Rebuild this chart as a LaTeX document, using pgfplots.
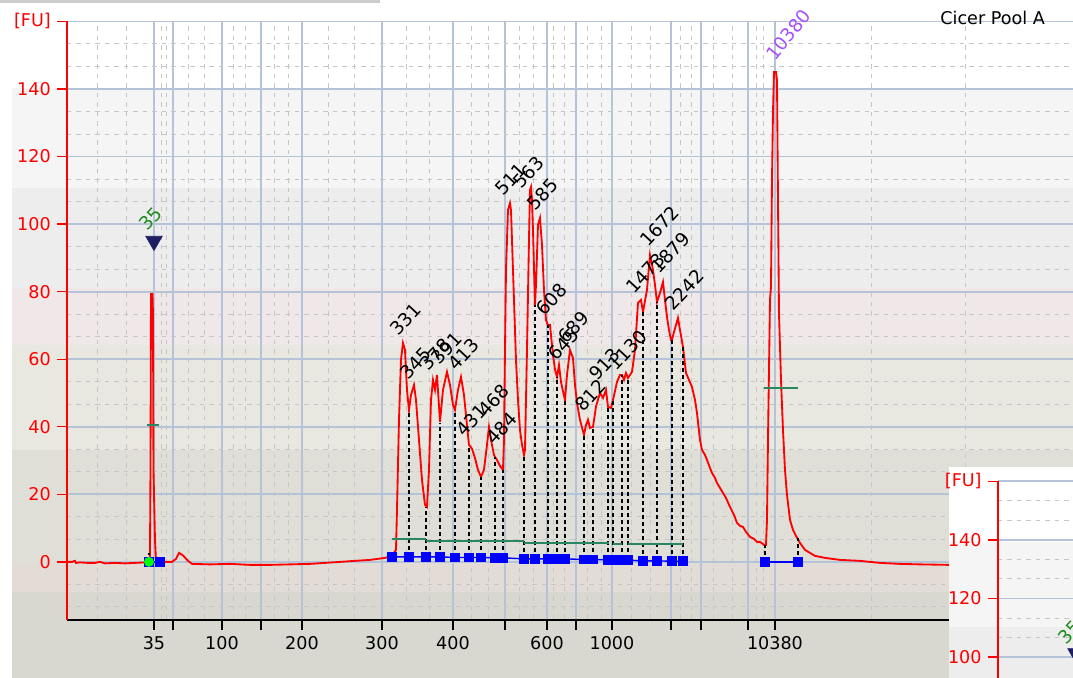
\documentclass[border=0pt]{standalone}
\usepackage{fontspec}
\setmainfont{DejaVu Sans}
\usepackage{pgfplots}
\pgfplotsset{compat=1.18}
\definecolor{trace}{RGB}{255,0,0}
\definecolor{gridmaj}{RGB}{180,195,215}
\definecolor{gridmin}{RGB}{198,198,198}
\definecolor{peakgreen}{RGB}{40,135,95}
\definecolor{navy}{RGB}{30,30,100}
\definecolor{lilac}{RGB}{165,80,255}
\definecolor{lbl35}{RGB}{30,140,30}
\definecolor{bandA}{RGB}{245,245,245}
\definecolor{bandB}{RGB}{237,237,237}
\definecolor{bandC}{RGB}{240,232,232}
\definecolor{bandD}{RGB}{232,232,225}
\definecolor{bandE}{RGB}{223,222,215}
\definecolor{bandF}{RGB}{227,219,214}
\definecolor{bandG}{RGB}{216,216,209}

\pgfplotsset{
  bio grid/.style={
    grid=both,
    major grid style={gridmaj, line width=1pt},
    minor grid style={gridmin, line width=0.55pt, dash pattern=on 0.09cm off 0.1cm},
  },
}
\tikzset{
  peak/.style={rotate=47, anchor=base west, inner sep=0pt, font=\fontsize{10.5}{12}\selectfont},
}

\begin{document}
\begin{tikzpicture}
% background bands, drawn in image pixels
\begin{scope}[x=0.02cm,y=-0.02cm,shift={(-1.34cm,12.4cm)}]
  \fill[white] (0,0) rectangle (1073,678);
  \fill[bandA] (12,88) rectangle (1073,188);
  \fill[bandB] (12,188) rectangle (1073,288);
  \fill[bandC] (12,288) rectangle (1073,345);
  \fill[bandD] (12,345) rectangle (1073,450);
  \fill[bandE] (12,450) rectangle (1073,564);
  \fill[bandF] (12,564) rectangle (1073,592);
  \fill[bandG] (12,592) rectangle (1073,678);
  \fill[black!20] (0,0) rectangle (380,3);
\end{scope}

\begin{axis}[
  x=0.02cm, y=0.067572cm,
  xmin=67, xmax=1073, ymin=-17.167, ymax=160,
  enlargelimits=false,
  axis lines=left,
  x axis line style={black, line width=0.8pt, -},
  y axis line style={red, line width=1.1pt, -},
  tick align=outside,
  major tick length=0.2cm,
  minor tick length=0pt,
  xtick={154,173,222,261,302,382,453,505,547,576,612,671,701,748,775},
  xticklabels={35,,100,,200,300,400,,600,,1000,,,,10380},
  minor xtick={97,126,161,166,188,204,233,245,274,288,328,354,406,429,471,488,519,533,553,564,587,601,631,650,680,691,713,732,756,763,871,965},
  ytick={0,20,40,60,80,100,120,140,160},
  yticklabels={0,20,40,60,80,100,120,140,{[FU]}},
  minor ytick={-13.333,-6.667,6.667,13.333,26.667,33.333,46.667,53.333,66.667,73.333,86.667,93.333,106.667,113.333,126.667,133.333,146.667,153.333},
  bio grid,
  x tick style={black, line width=0.8pt},
  y tick style={red, line width=0.8pt},
  tick label style={font=\fontsize{10}{12}\selectfont},
  yticklabel style={text=red},
  clip=false,
]

% electropherogram trace
\addplot[trace, line width=1.05pt] coordinates {
(67,0) (72,0) (75,0.3) (76,-0.3) (80,-0.15) (88,-0.3) (95,-0.3) (100,0)
(105,-0.44) (115,-0.3) (125,-0.44) (135,-0.3) (145,-0.15) (149,0)
(150,2.07) (150.5,27.2) (151,79.3) (152.5,79.3) (153,73.4) (153.5,27.2)
(155,6.5) (156,0.6) (158,0) (165,0) (172,0) (176,0.89) (179,2.66) (183,1.92)
(188,0.3) (192,-0.59) (210,-0.74) (230,-0.59) (250,-0.89) (270,-0.89)
(290,-0.74) (310,-0.59) (325,-0.3) (340,0) (355,0.3) (370,0.59) (385,1.18)
(392,1.78) (396,3.55) (397,15.39) (399,42.03) (401,59.79) (403,64.82)
(405,62.75) (407,50.91) (409,44.99) (411,49.43) (414,52.39) (416,47.95)
(419,36.11) (422,24.27) (425,16.87) (427,16.28) (429,27.23) (431,47.95)
(433,53.87) (435,50.91) (437,55.35) (440,41.44) (443,50.91) (447,56.24)
(450,52.39) (453,46.47) (455,44.99) (458,50.91) (461,54.76) (464,49.43)
(467,40.5) (469,34.63) (472,33.5) (475,30.78) (478,27.23) (481,25.16)
(484,27.23) (487,34.63) (489,39.96) (491,36.11) (494,31.67) (495,31.08)
(497,30.19) (500,28.4) (503,27.23) (504,36.11) (505,62.75) (506,86.43)
(508,104.19) (510,106.26) (511,104.19) (512,95.31) (514,77.55) (516,59.79)
(518,47.95) (520,39.07) (522,34.63) (524,31.67) (525,33.15) (527,62.75)
(529,95.31) (530,110.1) (531,111.0) (532,107.1) (533,98.3) (535,76.07)
(536,82) (538,99.75) (540,101.8) (542,93.83) (544,80.51) (546,71.63)
(548,70) (550,70.15) (553,61.27) (555,57) (557,54.76) (559,58.31)
(561,53.3) (563,50.5) (565,47.95) (567,55.35) (570,62.75) (573,60.38)
(575,52.39) (577,47.06) (580,42.03) (584,37.59) (586,40.55) (588,42.03)
(590,39.66) (593,39.96) (596,46) (600,50.02) (603,48.54) (606,50.91)
(608,45.88) (611,45.58) (613,47.95) (617,53.28) (620,55.35) (622,55.35)
(624,53.87) (626,55.9) (628,54.46) (632,56.24) (635,62.75) (638,76.66)
(641,77.55) (643,74.0) (647,80.51) (650,90.87) (653,86.43) (655,81.99)
(657,76.95) (660,79.62) (663,82.87) (665,77.55) (667,72.52) (669,68.67)
(671,65.71) (672,65.71) (674,68.08) (678,72.22) (680,68.67) (683,63.64)
(686,55.94) (689,53.87) (692,51.8) (695,47.95) (697,44.1) (700,36.11)
(702,33.15) (705,31.67) (707,30.19) (710,27.82) (712,26.34) (715,24.86)
(717,23.38) (720,21.9) (723,20.42) (726,18.94) (730,16.28) (734,13.91)
(737,11.54) (740,10.66) (743,10.36) (746,8.88) (750,7.4) (754,6.81)
(757,5.92) (760,5.92) (764,5.03) (766,5.03) (767,12.43) (768,36.11)
(770,77.55) (771,81.39) (772,113.06) (773,132.9) (774,145.0) (776,145.0)
(777,142.66) (778,107.15) (779,73.7) (781,53.87) (783,39.07) (785,27.23)
(787,19.83) (790,12.43) (793,9.47) (796,7.7) (800,5.62) (805,3.55)
(810,2.66) (815,1.78) (825,1.18) (840,0.59) (860,0.3) (880,-0.3)
(900,-0.59) (920,-0.74) (950,-0.89) (1000,-0.89) (1073,-0.89)
};

% peak boundary drop lines
\addplot[black, line width=0.8pt, dash pattern=on 0.08cm off 0.06cm, unbounded coords=jump] coordinates {
(409,1.5) (409,45.0) (409,nan)
(426,1.5) (426,16.3) (426,nan)
(440,1.5) (440,41.1) (440,nan)
(455,1.5) (455,45.0) (455,nan)
(469,1.5) (469,34.6) (469,nan)
(481,1.5) (481,25.2) (481,nan)
(495,1.5) (495,31.1) (495,nan)
(503,1.5) (503,27.2) (503,nan)
(524,0.9) (524,31.7) (524,nan)
(535,0.9) (535,76.1) (535,nan)
(548,0.9) (548,70.0) (548,nan)
(557,0.9) (557,54.8) (557,nan)
(565,0.9) (565,48.0) (565,nan)
(584,0.9) (584,37.6) (584,nan)
(593,0.9) (593,40.0) (593,nan)
(608,0.9) (608,45.9) (608,nan)
(613,0.9) (613,48.0) (613,nan)
(622,0.9) (622,55.4) (622,nan)
(628,0.9) (628,54.5) (628,nan)
(643,0.3) (643,74.0) (643,nan)
(657,0.3) (657,77.0) (657,nan)
(672,0.3) (672,65.7) (672,nan)
(683,0.3) (683,63.6) (683,nan)
(765,0) (765,5.0) (765,nan)
(798,0) (798,7.0) (798,nan)
(149,0) (149,2.6)
};

% peak baselines
\addplot[peakgreen, line width=0.8pt, unbounded coords=jump] coordinates {
(392,6.81) (426,6.81) (426,nan)
(426,6.22) (524,6.22) (524,nan)
(524,5.62) (609,5.62) (609,nan)
(613,5.33) (622,5.33) (622,nan)
(628,5.33) (683,5.33) (683,nan)
(147,40.55) (159,40.55) (159,nan)
(764,51.5) (798,51.5)
};

% peak boundary markers
\addplot[blue, line width=0.8pt, mark=square*, mark size=2.4pt, mark options={fill=blue, rounded corners=0.6pt}] coordinates {
(392,1.5) (409,1.5) (426,1.5) (440,1.5) (455,1.3) (469,1.3) (481,1.3) (495,1.2) (503,1.2)
(524,0.9) (535,0.9) (548,0.9) (557,0.9) (565,0.9) (584,0.7) (593,0.7) (608,0.6)
(613,0.6) (622,0.5) (628,0.5) (643,0.3) (657,0.3) (672,0.2) (683,0.2)
};
\addplot[blue, line width=0.8pt, mark=square*, mark size=2.4pt, mark options={fill=blue, rounded corners=0.6pt}] coordinates {(765,0) (798,0)};
\addplot[blue, line width=0.8pt, mark=square*, mark size=2.4pt, mark options={fill=blue, rounded corners=0.6pt}] coordinates {(149,0) (160,0)};
\addplot[only marks, mark=*, mark size=2.6pt, green, mark options={fill=green}] coordinates {(149,0)};
\addplot[only marks, mark=triangle*, mark size=5.4pt, navy, mark options={rotate=180, fill=navy}] coordinates {(154,95.0)};

% peak labels
\node[peak, text=lbl35] at (axis cs:147,97.7) {35};
\node[peak] at (axis cs:398,66.6) {331};
\node[peak] at (axis cs:408,53.6) {345};
\node[peak] at (axis cs:428,56.2) {378};
\node[peak] at (axis cs:439,58.0) {391};
\node[peak] at (axis cs:456,56.2) {413};
\node[peak] at (axis cs:464,36.7) {431};
\node[peak] at (axis cs:486,42.6) {468};
\node[peak] at (axis cs:494,34.3) {484};
\node[peak] at (axis cs:503,108.0) {511};
\node[peak] at (axis cs:521,110.1) {563};
\node[peak] at (axis cs:535,103.6) {585};
\node[peak] at (axis cs:544,72.5) {608};
\node[peak] at (axis cs:556,59.2) {645};
\node[peak] at (axis cs:566,64.2) {689};
\node[peak] at (axis cs:583,44.1) {812};
\node[peak] at (axis cs:597,53.3) {913};
\node[peak] at (axis cs:616,56.2) {1130};
\node[peak] at (axis cs:634,79.0) {1473};
\node[peak] at (axis cs:648,92.9) {1672};
\node[peak] at (axis cs:659,85.0) {1879};
\node[peak] at (axis cs:673,74.0) {2242};
\node[peak, text=lilac, rotate=4] at (axis cs:775,148.0) {10380};
\end{axis}

% second panel peeking in at the lower right
\begin{scope}[x=0.02cm,y=-0.02cm,shift={(-1.34cm,12.4cm)}]
  \fill[white] (949,467) rectangle (1073,678);
  \fill[bandA] (949,542) rectangle (1073,627);
  \fill[bandB] (949,627) rectangle (1073,678);
  \node[anchor=base east, font=\fontsize{10}{12}\selectfont] at (1051,25) {Cicer Pool A};
\end{scope}

\begin{axis}[
  at={(18.62cm,-1.16cm)}, anchor=south west,
  x=0.02cm, y=0.0586cm,
  xmin=998, xmax=1073, ymin=92.9, ymax=160,
  enlargelimits=false,
  axis lines=left,
  x axis line style={draw=none},
  y axis line style={red, line width=1.1pt, -},
  tick align=outside,
  major tick length=0.2cm,
  minor tick length=0pt,
  xtick=\empty,
  minor xtick={1023,1048},
  ytick={100,120,140,160},
  yticklabels={100,120,140,{[FU]}},
  minor ytick={106.667,113.333,126.667,133.333,146.667,153.333},
  bio grid,
  y tick style={red, line width=0.8pt},
  tick label style={font=\fontsize{10}{12}\selectfont},
  yticklabel style={text=red},
  clip=false,
]
\addplot[only marks, mark=triangle*, mark size=4.6pt, navy, mark options={rotate=180, fill=navy}] coordinates {(1075,101.5)};
\node[peak, text=lbl35] at (axis cs:1066,104.0) {35};
\end{axis}

\pgfresetboundingbox
\begin{scope}[x=0.02cm,y=-0.02cm,shift={(-1.34cm,12.4cm)}]
  \path[use as bounding box] (0,0) rectangle (1073,678);
\end{scope}
\end{tikzpicture}
\end{document}
